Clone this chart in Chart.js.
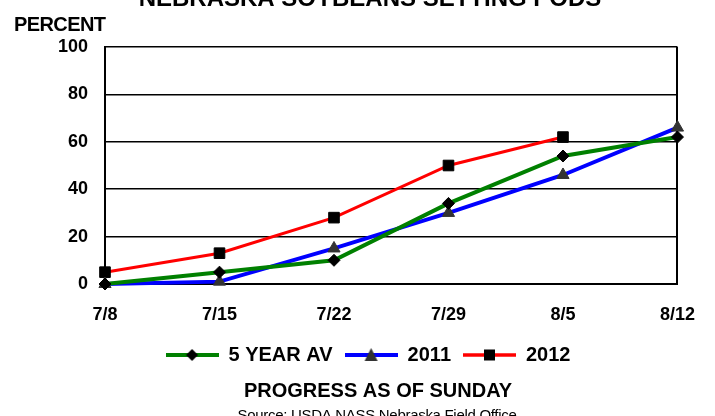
<!DOCTYPE html>
<html>
<head>
<meta charset="utf-8">
<script src="https://cdn.jsdelivr.net/npm/chart.js@4.4.1/dist/chart.umd.min.js"></script>
<style>
  html, body { margin: 0; padding: 0; background: #fff; }
  #wrap { width: 715px; height: 416px; }
</style>
</head>
<body>
<div id="wrap"><canvas id="podsChart" width="715" height="416"></canvas></div>
<script>
// Nebraska soybeans setting pods - percent, weeks ending Sunday
var weekLabels = ["7/8", "7/15", "7/22", "7/29", "8/5", "8/12"];
var fiveYearAvg = [0, 5, 10, 34, 54, 62];
var year2011 = [0, 1, 15, 30, 46, 66];
var year2012 = [5, 13, 28, 50, 62, null];
var seriesNames = ["5 YEAR AV", "2011", "2012"];

var FONT = "'Liberation Sans', Arial, sans-serif";

// small line + marker picture for each legend entry
function legendIcon(color, lineWidth, marker, fill) {
  var c = document.createElement("canvas");
  c.width = 53;
  c.height = 16;
  var g = c.getContext("2d");
  g.strokeStyle = color;
  g.lineWidth = lineWidth;
  g.beginPath();
  g.moveTo(0, 8);
  g.lineTo(53, 8);
  g.stroke();
  g.fillStyle = fill;
  g.beginPath();
  if (marker == "diamond") {
    g.moveTo(26.5, 2); g.lineTo(32.5, 8); g.lineTo(26.5, 14); g.lineTo(20.5, 8);
  } else if (marker == "triangle") {
    g.moveTo(26.5, 1); g.lineTo(33, 14); g.lineTo(20, 14);
  } else {
    g.rect(21, 2.5, 11, 11);
  }
  g.closePath();
  g.fill();
  return c;
}

var icons = [
  legendIcon("#008000", 4, "diamond", "#000"),
  legendIcon("#0000ff", 4, "triangle", "#333"),
  legendIcon("#ff0000", 3.5, "square", "#000"),
];

// title, axis caption and source line
var chartTexts = {
  id: "chartTexts",
  afterDraw: function (chart) {
    var ctx = chart.ctx;
    ctx.save();
    ctx.fillStyle = "#000";
    ctx.textBaseline = "alphabetic";

    ctx.textAlign = "center";
    ctx.font = "bold 24px " + FONT;
    ctx.fillText("NEBRASKA SOYBEANS SETTING PODS", 370, 6);

    ctx.textAlign = "left";
    ctx.font = "bold 20px " + FONT;
    ctx.letterSpacing = "-0.6px";
    ctx.fillText("PERCENT", 14, 31);
    ctx.letterSpacing = "0px";

    ctx.textAlign = "center";
    ctx.font = "bold 20px " + FONT;
    ctx.fillText("PROGRESS AS OF SUNDAY", 378, 397);

    ctx.font = "15px " + FONT;
    ctx.letterSpacing = "-0.3px";
    ctx.fillText("Source: USDA NASS Nebraska Field Office", 377, 420);
    ctx.restore();
  }
};

new Chart(document.getElementById("podsChart").getContext("2d"), {
  type: "line",
  data: {
    labels: weekLabels,
    datasets: [
      {
        label: seriesNames[0],
        data: fiveYearAvg,
        borderColor: "#008000",
        backgroundColor: "#000",
        borderWidth: 4,
        pointStyle: "rectRot",
        pointRadius: 6,
        pointBorderColor: "#000",
        pointBackgroundColor: "#000",
        pointBorderWidth: 1,
        tension: 0,
        clip: false,
      },
      {
        label: seriesNames[1],
        data: year2011,
        borderColor: "#0000ff",
        backgroundColor: "#333",
        borderWidth: 4,
        pointStyle: "triangle",
        pointRadius: 7,
        pointBorderColor: "#333",
        pointBackgroundColor: "#333",
        pointBorderWidth: 1,
        tension: 0,
        clip: false,
      },
      {
        label: seriesNames[2],
        data: year2012,
        borderColor: "#ff0000",
        backgroundColor: "#000",
        borderWidth: 3,
        pointStyle: "rect",
        pointRadius: 7.5,
        pointBorderColor: "#000",
        pointBackgroundColor: "#000",
        pointBorderWidth: 1,
        tension: 0,
        clip: false,
      },
    ],
  },
  options: {
    responsive: false,
    animation: false,
    devicePixelRatio: 1,
    layout: {
      padding: { top: 47, left: 58, right: 37, bottom: 41 },
    },
    scales: {
      x: {
        offset: false,
        afterFit: function (scale) { scale.height = 49; },
        grid: {
          drawTicks: false,
          color: function (c) { return c.index == weekLabels.length - 1 ? "#000" : "rgba(0,0,0,0)"; },
          lineWidth: 2,
        },
        border: { color: "#000", width: 2 },
        ticks: {
          color: "#000",
          font: { family: FONT, size: 18, weight: "bold" },
          padding: 20,
          maxRotation: 0,
          autoSkip: false,
        },
      },
      y: {
        min: 0,
        max: 100,
        afterFit: function (scale) { scale.width = 47; },
        grid: { drawTicks: false, color: "#000", lineWidth: 1.5 },
        border: { color: "#000", width: 2 },
        ticks: {
          stepSize: 20,
          color: "#000",
          font: { family: FONT, size: 18, weight: "bold" },
          padding: 17,
        },
      },
    },
    plugins: {
      title: { display: false },
      tooltip: { enabled: false },
      legend: {
        position: "bottom",
        align: "center",
        labels: {
          color: "#000",
          font: { family: FONT, size: 20, weight: "bold" },
          usePointStyle: true,
          pointStyleWidth: 53,
          padding: 12,
          generateLabels: function (chart) {
            var items = Chart.defaults.plugins.legend.labels.generateLabels(chart);
            items.forEach(function (item, i) { item.pointStyle = icons[i]; });
            return items;
          },
        },
      },
    },
  },
  plugins: [chartTexts],
});
</script>
</body>
</html>
